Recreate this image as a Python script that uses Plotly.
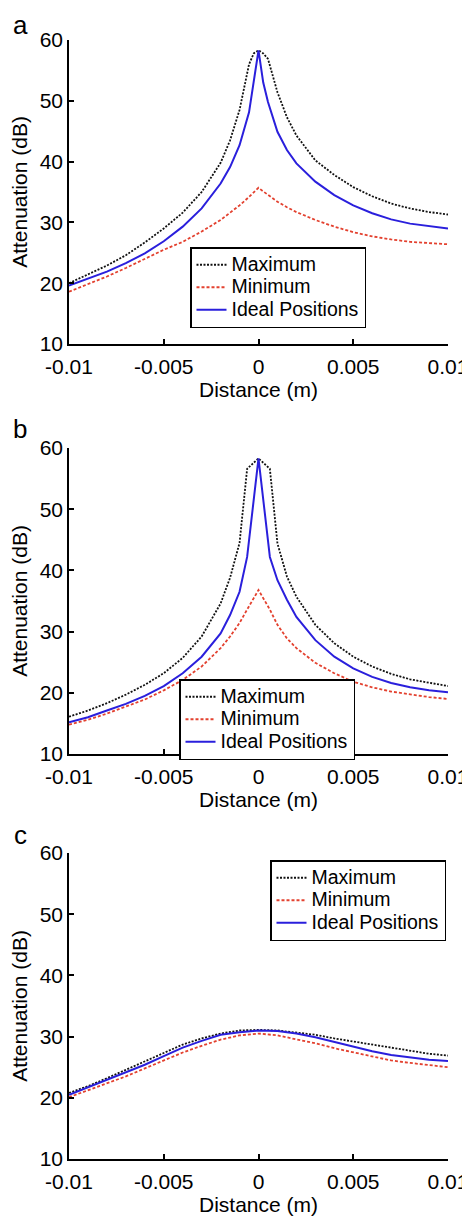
import plotly.graph_objects as go

# ---------------- data ----------------
x_a = [-0.01, -0.009, -0.008, -0.007, -0.006, -0.005, -0.004, -0.003, -0.002, -0.0015, -0.001,
       -0.0005, -0.00025, 0, 0.00025, 0.0005, 0.001, 0.0015, 0.002, 0.003, 0.004, 0.005, 0.006,
       0.007, 0.008, 0.009, 0.01]
max_a = [20.0, 21.4, 22.9, 24.6, 26.7, 29.0, 31.6, 35.0, 39.8, 43.5, 48.5, 56.0, 57.8, 58.3, 57.8,
         56.9, 51.4, 47.3, 44.3, 40.2, 37.8, 35.8, 34.3, 33.1, 32.3, 31.7, 31.3]
min_a = [18.6, 19.8, 21.1, 22.5, 24.0, 25.5, 26.8, 28.5, 30.4, 31.6, 32.8, 34.2, 35.0, 35.7, 35.1,
         34.5, 33.4, 32.5, 31.7, 30.4, 29.3, 28.4, 27.7, 27.2, 26.8, 26.6, 26.4]
ideal_a = [19.6, 20.7, 21.9, 23.3, 24.9, 26.9, 29.3, 32.3, 36.4, 39.1, 42.7, 48.1, 53.0, 58.3, 53.0,
           49.8, 44.9, 41.9, 39.7, 36.7, 34.5, 32.8, 31.5, 30.5, 29.8, 29.4, 29.0]

x_b = [-0.01, -0.009, -0.008, -0.007, -0.006, -0.005, -0.004, -0.003, -0.002, -0.0015, -0.001,
       -0.0006, 0, 0.0006, 0.001, 0.0015, 0.002, 0.003, 0.004, 0.005, 0.006, 0.007, 0.008, 0.009, 0.01]
max_b = [16.1, 17.1, 18.3, 19.7, 21.3, 23.2, 25.7, 29.2, 34.6, 38.8, 44.5, 56.6, 58.3, 56.6, 44.4,
         39.0, 35.7, 31.1, 28.1, 25.9, 24.3, 23.1, 22.2, 21.6, 21.1]
min_b = [14.8, 15.6, 16.6, 17.7, 18.9, 20.4, 22.1, 24.3, 27.3, 29.2, 31.4, 33.6, 36.8, 33.6, 31.1,
         28.9, 27.3, 24.9, 23.2, 21.8, 20.9, 20.2, 19.7, 19.3, 19.0]
ideal_b = [15.2, 16.0, 17.1, 18.2, 19.5, 21.1, 23.2, 25.9, 29.7, 32.7, 36.5, 42.2, 58.3, 42.2, 38.4,
           35.2, 32.4, 28.6, 25.9, 24.0, 22.6, 21.6, 20.9, 20.4, 20.1]

x_c = [-0.01, -0.009, -0.008, -0.007, -0.006, -0.005, -0.004, -0.003, -0.002, -0.001, 0,
       0.001, 0.002, 0.003, 0.004, 0.005, 0.006, 0.007, 0.008, 0.009, 0.01]
max_c = [20.8, 21.9, 23.2, 24.6, 26.0, 27.4, 28.7, 29.7, 30.5, 31.0, 31.1, 31.0, 30.7, 30.3, 29.7,
         29.2, 28.6, 28.1, 27.6, 27.2, 26.9]
min_c = [20.1, 21.2, 22.3, 23.5, 24.8, 26.1, 27.4, 28.5, 29.5, 30.2, 30.5, 30.2, 29.6, 28.9, 28.1,
         27.4, 26.7, 26.1, 25.7, 25.3, 25.0]
ideal_c = [20.5, 21.7, 22.9, 24.1, 25.4, 26.8, 28.2, 29.3, 30.3, 30.7, 31.0, 30.9, 30.5, 29.9, 29.1,
           28.3, 27.6, 27.0, 26.6, 26.2, 26.0]

series_names = ["Maximum", "Minimum", "Ideal Positions"]
panel_labels = ["a", "b", "c"]
x_ticks = [-0.01, -0.005, 0, 0.005, 0.01]
x_tick_text = ["-0.01", "-0.005", "0", "0.005", "0.01"]
y_ticks = [10, 20, 30, 40, 50, 60]

# ---------------- styling ----------------
FONT = "Arial, Liberation Sans, Helvetica, sans-serif"
styles = [
    dict(color="#111111", width=1.8, dash="2px,1.5px"),
    dict(color="#e3412f", width=1.8, dash="3px,2px"),
    dict(color="#2a1fdc", width=2.0, dash="solid"),
]

# page body has an 8px default margin, so figure coordinates are page coords - 8
OFF = 8
W, H = 470 - OFF, 1216 - OFF
L, R = 69 - OFF, 470 - 448
PW = W - L - R

# (xs, series, (plot top, plot bottom) page px, (legend left, legend top) page px, label anchor page y)
panels = [
    (x_a, [max_a, min_a, ideal_a], (40, 344), (190, 247), 24.5),
    (x_b, [max_b, min_b, ideal_b], (448, 754), (179, 679), 429),
    (x_c, [max_c, min_c, ideal_c], (853, 1159), (270, 860), 835),
]

fig = go.Figure()
layout = dict(
    width=W, height=H,
    margin=dict(l=L, r=R, t=0, b=0, pad=0),
    paper_bgcolor="white", plot_bgcolor="white",
    font=dict(family=FONT, size=21, color="black"),
    showlegend=True,
    annotations=[],
)


def px_x(page_x):
    return (page_x - OFF - L) / PW


def px_y(page_y):
    return 1 - (page_y - OFF) / H


for i, (xs, ys_list, (top, bot), (lx, ly), lab_y) in enumerate(panels):
    n = "" if i == 0 else str(i + 1)
    leg = "legend" if i == 0 else f"legend{i + 1}"
    for name, ys, st in zip(series_names, ys_list, styles):
        fig.add_trace(go.Scatter(
            x=xs, y=ys, mode="lines",
            name=f"<span style='font-size:19.5px'>{name}</span>",
            line=st, xaxis="x" + n, yaxis="y" + n, legend=leg,
        ))
    layout["xaxis" + n] = dict(
        domain=[0, 1], anchor="y" + n, range=[-0.01, 0.01],
        tickmode="array", tickvals=x_ticks, ticktext=x_tick_text,
        ticks="inside", ticklen=5, tickwidth=1.5, tickcolor="black",
        showline=True, linecolor="black", linewidth=1.5, mirror=False,
        showgrid=False, zeroline=False,
        tickfont=dict(family=FONT, size=21, color="black"),
        ticklabelstandoff=3,
        title=dict(text="Distance (m)", font=dict(family=FONT, size=21), standoff=0),
        automargin=False,
    )
    layout["yaxis" + n] = dict(
        domain=[px_y(bot), px_y(top)], anchor="x" + n, range=[10, 60],
        tickmode="array", tickvals=y_ticks,
        ticks="inside", ticklen=5, tickwidth=1.5, tickcolor="black",
        showline=True, linecolor="black", linewidth=1.5, mirror=False,
        showgrid=False, zeroline=False,
        tickfont=dict(family=FONT, size=21, color="black"),
        title=dict(text="Attenuation (dB)", font=dict(family=FONT, size=21), standoff=9),
        automargin=False,
    )
    layout[leg] = dict(
        x=px_x(lx), y=px_y(ly), xref="paper", yref="paper",
        xanchor="left", yanchor="top",
        bgcolor="white", bordercolor="black", borderwidth=1.5,
        font=dict(family=FONT, size=15, color="black"),
        tracegroupgap=0, itemwidth=30,
    )
    layout["annotations"].append(dict(
        text=panel_labels[i], x=px_x(20), y=px_y(lab_y),
        xref="paper", yref="paper", xanchor="center", yanchor="middle",
        showarrow=False, font=dict(family=FONT, size=26, color="black"),
    ))

fig.update_layout(**layout)
fig.write_html("out.html")
